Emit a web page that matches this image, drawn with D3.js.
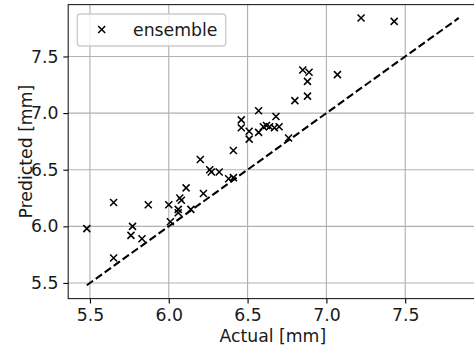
<!DOCTYPE html>
<html>
<head>
<meta charset="utf-8">
<script src="https://cdn.jsdelivr.net/npm/d3@7"></script>
<style>
  html, body { margin: 0; padding: 0; background: #fff; }
  svg { display: block; font-family: "DejaVu Sans", sans-serif; }
</style>
</head>
<body>
<svg id="chart" width="474" height="350"></svg>
<script>
// Measured vs. ensemble-predicted values (mm)
const actual = [
  5.48, 5.65, 5.87, 6.00, 5.77, 5.76, 5.83, 5.65, 6.01, 6.06, 6.06,
  6.07, 6.08, 6.11, 6.14, 6.22, 6.20, 6.26, 6.27, 6.32, 6.38, 6.41,
  6.41, 6.46, 6.46, 6.51, 6.57, 6.51, 6.57, 6.60, 6.62, 6.64, 6.67,
  6.70, 6.68, 6.76, 6.80, 6.85, 6.89, 6.88, 6.88, 7.07, 7.22, 7.43
];
const predicted = [
  5.98, 6.21, 6.19, 6.19, 6.00, 5.92, 5.89, 5.72, 6.04, 6.15, 6.12,
  6.25, 6.23, 6.34, 6.15, 6.29, 6.59, 6.50, 6.48, 6.48, 6.42, 6.43,
  6.67, 6.94, 6.87, 6.84, 6.83, 6.77, 7.02, 6.88, 6.89, 6.88, 6.87,
  6.88, 6.97, 6.78, 7.11, 7.38, 7.36, 7.28, 7.15, 7.34, 7.84, 7.81
];
const tickValues = [5.5, 6.0, 6.5, 7.0, 7.5];
const seriesName = "ensemble";
const xTitle = "Actual [mm]";
const yTitle = "Predicted [mm]";

(function () {
  const svg = d3.select("#chart");
  const px = 100 / 72; // points to pixels
  const fontSize = 17.3;

  // Axes box (right edge runs past the canvas)
  const boxL = 68.2, boxR = 477.4, boxT = 4.6, boxB = 298.6;

  // Identity line spans the full range of both series
  const lo = Math.min(d3.min(actual), d3.min(predicted));
  const hi = Math.max(d3.max(actual), d3.max(predicted));
  const pad = (hi - lo) * 0.05;

  const x = d3.scaleLinear().domain([lo - pad, hi + pad]).range([boxL, boxR]);
  const y = d3.scaleLinear().domain([lo - pad, hi + pad]).range([boxB, boxT]);

  // Grid
  const grid = svg.append("g").attr("stroke", "#b0b0b0").attr("stroke-width", 0.8 * px);
  grid.selectAll("line.gx").data(tickValues).join("line").attr("class", "gx")
    .attr("x1", d => x(d)).attr("x2", d => x(d)).attr("y1", boxT).attr("y2", boxB);
  grid.selectAll("line.gy").data(tickValues).join("line").attr("class", "gy")
    .attr("y1", d => y(d)).attr("y2", d => y(d)).attr("x1", boxL).attr("x2", boxR);

  // Identity line
  svg.append("line")
    .attr("x1", x(lo)).attr("y1", y(lo)).attr("x2", x(hi)).attr("y2", y(hi))
    .attr("stroke", "#000").attr("stroke-width", 1.5 * px)
    .attr("stroke-dasharray", `${5.55 * px},${2.4 * px}`);

  // Scatter markers
  const r = 3.5;
  const cross = (cx, cy) =>
    `M${cx - r},${cy - r}L${cx + r},${cy + r}M${cx - r},${cy + r}L${cx + r},${cy - r}`;
  const pts = svg.append("g").attr("stroke", "#000").attr("stroke-width", 1.1 * px).attr("fill", "none");
  pts.selectAll("path").data(actual.map((a, i) => [a, predicted[i]])).join("path")
    .attr("d", d => cross(x(d[0]), y(d[1])));

  // Axes
  const xAxis = d3.axisBottom(x).tickValues(tickValues).tickFormat(d3.format(".1f"))
    .tickSize(3.5 * px).tickPadding(3.5 * px);
  const yAxis = d3.axisLeft(y).tickValues(tickValues).tickFormat(d3.format(".1f"))
    .tickSize(3.5 * px).tickPadding(3.5 * px);

  const gx = svg.append("g").attr("transform", `translate(0,${boxB})`).call(xAxis);
  const gy = svg.append("g").attr("transform", `translate(${boxL},0)`).call(yAxis);
  [gx, gy].forEach(g => {
    g.select(".domain").remove();
    g.selectAll(".tick line").attr("stroke", "#000").attr("stroke-width", 0.8 * px);
    g.selectAll(".tick text").attr("fill", "#1a1a1a")
      .style("font-size", fontSize + "px").style("font-family", "DejaVu Sans");
  });

  // Frame
  svg.append("rect")
    .attr("x", boxL).attr("y", boxT).attr("width", boxR - boxL).attr("height", boxB - boxT)
    .attr("fill", "none").attr("stroke", "#222").attr("stroke-width", 0.8 * px);

  // Axis titles
  svg.append("text")
    .attr("x", (boxL + boxR) / 2).attr("y", 341.5)
    .attr("text-anchor", "middle").attr("fill", "#1a1a1a").style("font-size", fontSize + "px")
    .text(xTitle);
  svg.append("text")
    .attr("transform", `translate(32,${(boxT + boxB) / 2}) rotate(-90)`)
    .attr("text-anchor", "middle").attr("fill", "#1a1a1a").style("font-size", fontSize + "px")
    .text(yTitle);

  // Legend
  const lg = svg.append("g");
  lg.append("rect")
    .attr("x", 77.3).attr("y", 14).attr("width", 148.4).attr("height", 32)
    .attr("rx", 3).attr("ry", 3)
    .attr("fill", "#fff").attr("fill-opacity", 0.8)
    .attr("stroke", "#cccccc").attr("stroke-width", 1 * px);
  const lx = 101.7, ly = 29.5;
  lg.append("path").attr("d", cross(lx, ly))
    .attr("stroke", "#000").attr("stroke-width", 1.1 * px);
  lg.append("text")
    .attr("x", 133).attr("y", ly).attr("dy", "0.35em")
    .attr("fill", "#1a1a1a").style("font-size", fontSize + "px")
    .text(seriesName);
})();
</script>
</body>
</html>
